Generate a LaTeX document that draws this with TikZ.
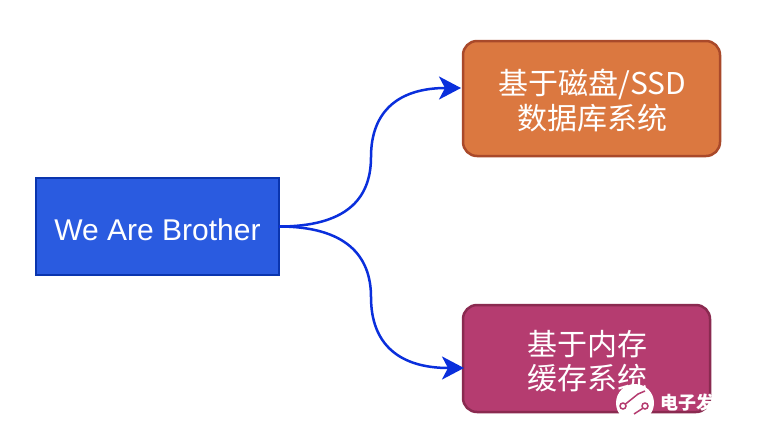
\documentclass[tikz,border=0pt]{standalone}
\usepackage{fontspec}
\setmainfont{Liberation Sans}
\newfontfamily\cjk{Noto Sans CJK SC}
\usetikzlibrary{arrows.meta}
\definecolor{bluefill}{HTML}{2A5BE0}
\definecolor{blueline}{HTML}{0A35AE}
\definecolor{orangefill}{HTML}{DB7840}
\definecolor{orangeline}{HTML}{A9492A}
\definecolor{magfill}{HTML}{B53C70}
\definecolor{magline}{HTML}{8A2A50}
\definecolor{arrowblue}{HTML}{0A2FDC}
\tikzset{
 x=1pt,y=-1pt,
 boxlabel/.style={text=white,align=center,font=\fontsize{30}{34.5}\selectfont\cjk,inner sep=0pt},
 link/.style={draw=arrowblue,line width=2.5pt,-{Stealth[length=22pt,width=23pt,inset=6pt]}},
}
\begin{document}
\begin{tikzpicture}
\useasboundingbox (0,0) rectangle (760,432);
\fill[white] (0,0) rectangle (760,432);
\draw[blueline,fill=bluefill,line width=2.5pt] (36,178) rectangle (279,275);
\node[boxlabel,font=\fontsize{30}{36}\selectfont] (src) at (157.5,229.5) {We Are Brother};
\coordinate (srcout) at (279,226.5);
\draw[orangeline,fill=orangefill,line width=2.5pt,rounded corners=14pt] (463,41) rectangle (720,156);
\node[boxlabel] (top) at (592.5,100.5) {基于磁盘/SSD\\数据库系统};
\coordinate (topin) at (461,88);
\draw[magline,fill=magfill,line width=2.5pt,rounded corners=14pt] (463,305) rectangle (710,412);
\node[boxlabel] (bot) at (587.5,361) {基于内存\\缓存系统};
\coordinate (botin) at (464,368);
\path[link] (srcout) .. controls (345,226.5) and (371,200) .. (371,157) .. controls (371,110) and (400,88) .. (topin);
\path[link] (srcout) .. controls (345,226.5) and (371,255) .. (371,297) .. controls (371,345) and (400,368) .. (botin);
\begin{scope}
\clip (600,370) rectangle (760,414.5);
\fill[white] (635,403) circle (19);
\draw[magfill,line width=1.5pt] (623,406) circle (3) (645,406) circle (3);
\draw[magfill,line width=1.5pt] (625.5,404) -- (638,394) -- (645,391);
\draw[magfill,line width=1.5pt] (642.5,408.5) -- (634,414);
\end{scope}
\node[text=white,font=\fontsize{18}{18}\selectfont\cjk\bfseries,inner sep=0pt,anchor=west] (mark) at (660,403) {电子发};
\end{tikzpicture}
\end{document}
